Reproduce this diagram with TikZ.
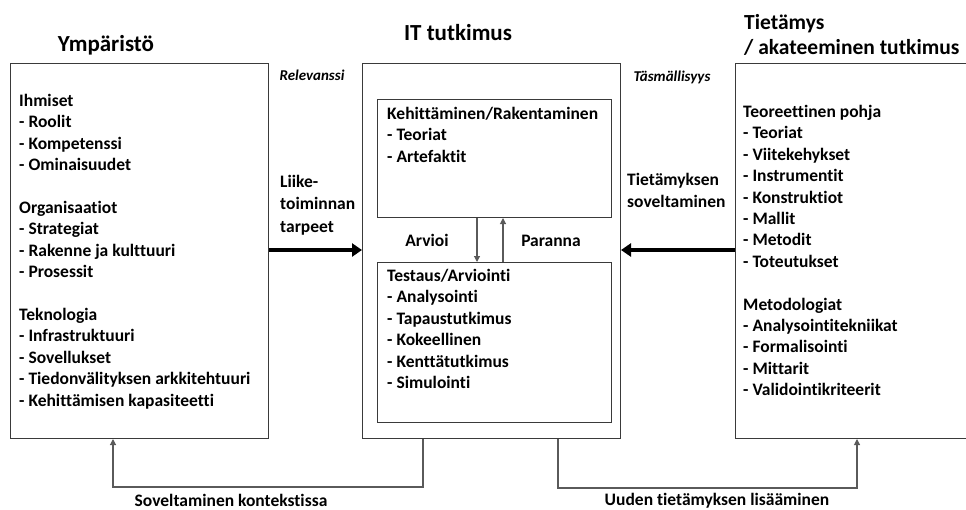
\documentclass[tikz,border=0pt]{standalone}
\usepackage{fontspec}
\setmainfont{Carlito}[Ligatures=NoCommon]
\usetikzlibrary{arrows.meta}
\definecolor{frame}{HTML}{3A3A3A}
\definecolor{wire}{HTML}{5A5A5A}
\tikzset{
  box/.style={draw=frame, line width=1pt, rectangle, anchor=north west, inner sep=0pt},
  body/.style={anchor=north west, inner sep=0pt, align=left,
    font=\fontsize{17.5}{21.4}\selectfont\bfseries},
  heading/.style={inner sep=0pt, font=\fontsize{23}{25}\selectfont\bfseries},
  tag/.style={inner sep=0pt, font=\fontsize{15}{17}\selectfont\bfseries\itshape},
  side/.style={anchor=north west, inner sep=0pt, align=left,
    font=\fontsize{17.5}{22.5}\selectfont\bfseries},
  big/.style={line width=4pt, -{Triangle[length=10pt,width=13pt]}},
  flow/.style={draw=wire, line width=1.1pt, -{Triangle[length=6pt,width=6pt]}, color=wire}
}
\begin{document}
\begin{tikzpicture}[x=1pt,y=-1pt]
\useasboundingbox (0,0) rectangle (966,509);
\clip (0,0) rectangle (966,509);

% headings
\node[heading] (hEnv) at (106,45) {Ympäristö};
\node[heading] (hIT) at (458,33) {IT tutkimus};
\node[heading, anchor=west, align=left, font=\fontsize{21.5}{25}\selectfont\bfseries]
  (hKB) at (744,35) {Tietämys\\/ akateeminen tutkimus};

% three main columns
\node[box, minimum width=258pt, minimum height=375pt] (env) at (10,63) {};
\node[box, minimum width=258pt, minimum height=375pt] (it) at (362,63) {};
\node[box, minimum width=260pt, minimum height=375pt] (kb) at (735,63) {};

% inner boxes of the research column
\node[box, minimum width=234pt, minimum height=118pt] (dev) at (377,99) {};
\node[box, minimum width=234pt, minimum height=160pt] (test) at (377,262) {};

% column contents
\node[body] (envText) at (19,94) {Ihmiset\\- Roolit\\- Kompetenssi\\- Ominaisuudet\\[21.4pt]
  Organisaatiot\\- Strategiat\\- Rakenne ja kulttuuri\\- Prosessit\\[21.4pt]
  Teknologia\\- Infrastruktuuri\\- Sovellukset\\- Tiedonvälityksen arkkitehtuuri\\- Kehittämisen kapasiteetti};
\node[body] (devText) at (387,107) {Kehittäminen/Rakentaminen\\- Teoriat\\- Artefaktit};
\node[body] (testText) at (387,269) {Testaus/Arviointi\\- Analysointi\\- Tapaustutkimus\\- Kokeellinen\\- Kenttätutkimus\\- Simulointi};
\node[body] (kbText) at (743,105) {Teoreettinen pohja\\- Teoriat\\- Viitekehykset\\- Instrumentit\\- Konstruktiot\\- Mallit\\- Metodit\\- Toteutukset\\[21.4pt]
  Metodologiat\\- Analysointitekniikat\\- Formalisointi\\- Mittarit\\- Validointikriteerit};

% cycle labels
\node[tag] (rel) at (312,75) {Relevanssi};
\node[tag] (rig) at (672,77) {Täsmällisyys};
\node[side] (needs) at (280,175) {Liike-\\toiminnan\\tarpeet};
\node[side] (apply) at (627,173) {Tietämyksen\\soveltaminen};
\node[body, anchor=base] (eval) at (427,246) {Arvioi};
\node[body, anchor=base] (impr) at (551,246) {Paranna};
\node[body, anchor=base] (ctx) at (231,506) {Soveltaminen kontekstissa};
\node[body, anchor=base] (add) at (717,505) {Uuden tietämyksen lisääminen};

% main flows
\draw[big] (env.east |- 0,250) -- (it.west |- 0,250);
\draw[big] (kb.west |- 0,250) -- (it.east |- 0,250);

% build / evaluate loop
\draw[flow] ([xshift=100pt]dev.south west) -- ([xshift=100pt]test.north west);
\draw[flow] ([xshift=126pt]test.north west) -- ([xshift=126pt]dev.south west);

% feedback to environment and knowledge base
\draw[flow] ([xshift=61pt]it.south west) -- ++(0,48) -| ([xshift=103pt]env.south west);
\draw[flow] ([xshift=196pt]it.south west) -- ++(0,49) -| ([xshift=122pt]kb.south west);
\end{tikzpicture}
\end{document}
